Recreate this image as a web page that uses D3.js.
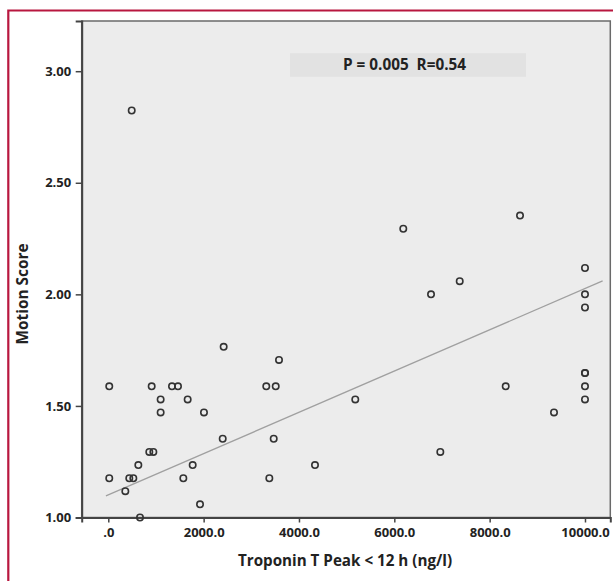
<!DOCTYPE html>
<html>
<head>
<meta charset="utf-8">
<style>
  body { margin: 0; background: #ffffff; }
  text { font-family: "Open Sans", "DejaVu Sans", sans-serif; font-weight: bold; fill: #222; }
</style>
</head>
<body>
<script src="https://cdnjs.cloudflare.com/ajax/libs/d3/7.8.5/d3.min.js"></script>
<script type="text/javascript">
    var svgWidth = 613, svgHeight = 581;

    // values
    var troponin = [20, 20, 910, 1098, 1098, 1336, 1462, 1665, 2007, 2420,
                    2400, 3581, 3314, 3512, 3470, 4336, 3378, 860, 945, 630,
                    440, 525, 357, 665, 1770, 1574, 1924, 491, 6188, 8637,
                    6770, 7372, 10000, 10000, 10000, 10000, 10000, 10000, 10000, 9350,
                    8337, 5181, 6965];
    var motionScore = [1.588, 1.176, 1.588, 1.529, 1.471, 1.588, 1.588, 1.529, 1.471, 1.765,
                       1.353, 1.706, 1.588, 1.588, 1.353, 1.235, 1.176, 1.294, 1.294, 1.235,
                       1.176, 1.176, 1.118, 1.0, 1.235, 1.176, 1.059, 2.824, 2.294, 2.353,
                       2.0, 2.059, 2.118, 2.0, 1.941, 1.647, 1.647, 1.588, 1.529, 1.471,
                       1.588, 1.529, 1.294];
    var fitX = [-50, 10370];
    var fitY = [1.097, 2.06];
    var xTicks = [0, 2000, 4000, 6000, 8000, 10000];
    var yTicks = [1.0, 1.5, 2.0, 2.5, 3.0];
    var statsLabel = 'P = 0.005\u00a0\u00a0R=0.54';

    var data = troponin.map(function (t, i) { return { x: t, y: motionScore[i] }; });

    var svg = d3.select('body').append('svg')
        .attr('width', svgWidth)
        .attr('height', svgHeight);

    svg.append('rect').attr('width', svgWidth).attr('height', svgHeight).attr('fill', '#ffffff');

    // red frame (left + top)
    svg.append('path')
        .attr('d', 'M8.3,' + svgHeight + 'V10.5H' + svgWidth)
        .attr('fill', 'none')
        .attr('stroke', '#b8173f')
        .attr('stroke-width', 2.2);

    var plot = { left: 81.7, top: 21, right: 610.3, bottom: 517.5 };

    var xScale = d3.scaleLinear()
        .domain([-558, 10531])
        .range([plot.left, plot.right]);
    var yScale = d3.scaleLinear()
        .domain([1.0, 3.225])
        .range([plot.bottom, plot.top]);

    svg.append('rect')
        .attr('x', plot.left).attr('y', plot.top)
        .attr('width', plot.right - plot.left)
        .attr('height', plot.bottom - plot.top)
        .attr('fill', '#ececec')
        .attr('stroke', '#6a6a6a')
        .attr('stroke-width', 1.5);

    // stats box
    svg.append('rect')
        .attr('x', 290).attr('y', 53.3)
        .attr('width', 236).attr('height', 23.4)
        .attr('fill', '#e2e2e2');
    svg.append('text')
        .attr('x', 343).attr('y', 70)
        .attr('font-size', '15.3px')
        .text(statsLabel);

    // axes
    var xAxis = d3.axisBottom(xScale)
        .tickValues(xTicks)
        .tickSize(5)
        .tickFormat(function (d) { return d === 0 ? '.0' : d3.format('.1f')(d); });
    var yAxis = d3.axisLeft(yScale)
        .tickValues(yTicks)
        .tickSize(6)
        .tickFormat(d3.format('.2f'));

    var gx = svg.append('g')
        .attr('transform', 'translate(0,' + plot.bottom + ')')
        .call(xAxis);
    var gy = svg.append('g')
        .attr('transform', 'translate(' + plot.left + ',0)')
        .call(yAxis);

    [gx, gy].forEach(function (g) {
        g.select('.domain').attr('stroke', '#444').attr('stroke-width', 2);
        g.selectAll('.tick line').attr('stroke', '#444').attr('stroke-width', 1.5);
        g.selectAll('.tick text')
            .attr('font-size', '13px')
            .attr('font-family', '"Open Sans", sans-serif')
            .attr('font-weight', 'bold')
            .attr('fill', '#222');
    });
    gx.selectAll('.tick text').attr('dy', null).attr('y', 19.5);
    gy.selectAll('.tick text').attr('x', -10.5);

    // fit line
    svg.append('line')
        .attr('x1', xScale(fitX[0])).attr('y1', yScale(fitY[0]))
        .attr('x2', xScale(fitX[1])).attr('y2', yScale(fitY[1]))
        .attr('stroke', '#a0a0a0')
        .attr('stroke-width', 1.3);

    // points
    svg.append('g').selectAll('circle')
        .data(data)
        .enter()
        .append('circle')
        .attr('cx', function (d) { return xScale(d.x); })
        .attr('cy', function (d) { return yScale(d.y); })
        .attr('r', 3.2)
        .attr('fill', 'none')
        .attr('stroke', '#333')
        .attr('stroke-width', 1.6);

    // axis titles
    svg.append('text')
        .attr('x', 345).attr('y', 566)
        .attr('text-anchor', 'middle')
        .attr('font-size', '15.2px')
        .text('Troponin T Peak < 12 h (ng/l)');
    svg.append('text')
        .attr('transform', 'translate(28,294) rotate(-90)')
        .attr('text-anchor', 'middle')
        .attr('font-size', '15.4px')
        .text('Motion Score');
</script>
</body>
</html>
